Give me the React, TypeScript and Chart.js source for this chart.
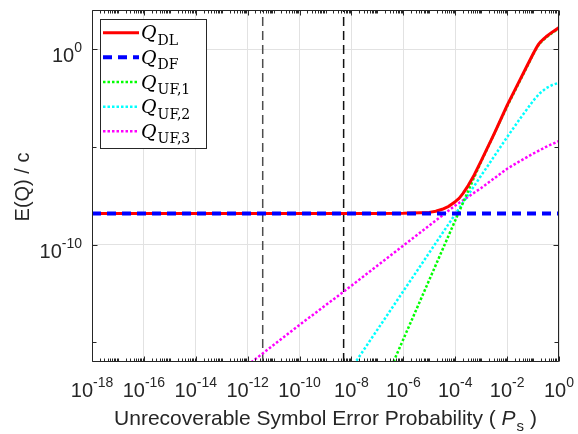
import React, { useEffect, useRef } from "react";
import { Chart, registerables } from "chart.js";

Chart.register(...registerables);

// ---------- axis ranges & ticks ----------
const xMin = 1e-18;
const xMax = 1;
const yMin = 1e-16;
const yMax = 1e2;
const xTickExponents = [-18, -16, -14, -12, -10, -8, -6, -4, -2, 0];
const yTickExponents = [-10, 0];
const yMinorTickExponents = [-15, -5];

// ---------- series ----------
const psDL = [1e-18, 1e-7, 1e-6, 1e-5, 1.78e-5, 3.16e-5, 5.62e-5, 1e-4, 1.41e-4, 2e-4, 3.16e-4, 5e-4, 1e-3, 3.16e-3, 1e-2, 3.16e-2, 5.62e-2, 0.1, 0.126, 0.158, 0.2, 0.251, 0.316, 0.562, 1];
const qDL = [3.98e-9, 3.98e-9, 4.03e-9, 4.47e-9, 5.13e-9, 6.46e-9, 9.12e-9, 1.58e-8, 2.34e-8, 4.17e-8, 1.05e-7, 3.02e-7, 1.91e-6, 4.68e-5, 1.32e-3, 2.75e-2, 0.126, 0.562, 1.0, 1.66, 2.45, 3.24, 4.27, 7.59, 12.6];

const psDF = [1e-18, 1];
const qDF = [3.98e-9, 3.98e-9];

const psUF1 = [1e-7, 1e-6, 1e-5, 1e-4, 1e-3, 1e-2, 0.1, 0.126, 0.158, 0.2, 0.316, 0.562, 1];
const qUF1 = [1.3e-18, 1.45e-15, 1.58e-12, 1.74e-9, 1.78e-6, 1.17e-3, 0.525, 0.933, 1.51, 2.24, 3.89, 6.92, 11.5];

const psUF2 = [1e-8, 1e-6, 1e-4, 1e-3, 1e-2, 3.16e-2, 0.1, 0.178, 0.316, 0.562, 1];
const qUF2 = [4.8e-17, 4.2e-13, 3.6e-9, 3.4e-7, 3.16e-5, 2.8e-4, 2.24e-3, 5.4e-3, 1.0e-2, 1.48e-2, 1.9e-2];

const psUF3 = [1e-12, 1e-10, 1e-8, 1e-6, 1e-4, 1e-3, 1e-2, 3.16e-2, 0.1, 0.316, 1];
const qUF3 = [6.9e-17, 7.9e-15, 7.9e-13, 8.9e-11, 1.0e-8, 7.9e-8, 7.6e-7, 1.9e-6, 4.5e-6, 1.0e-5, 2.0e-5];

const markerPs = [3.8e-12, 5e-9];

const legendSubs = ["DL", "DF", "UF,1", "UF,2", "UF,3"];
const xTitleMain = "Unrecoverable Symbol Error Probability ( ";
const xTitleVar = "P";
const xTitleSub = "s";
const xTitleEnd = " )";
const yTitle = "E(Q) / c";

// ---------- styles ----------
const SANS = '"Liberation Sans", Arial, sans-serif';
const SERIF = '"DejaVu Serif", "Liberation Serif", serif';
const TXT = "#262626";

const seriesStyles = [
  { color: "#ff0000", width: 3, dash: [] as number[] },
  { color: "#0000ff", width: 4, dash: [9, 6] },
  { color: "#00ff00", width: 2.5, dash: [2.5, 2] },
  { color: "#00ffff", width: 2.5, dash: [2.5, 2] },
  { color: "#ff00ff", width: 2.5, dash: [2.5, 2] },
];

function pts(xs: number[], ys: number[]) {
  return xs.map((x, i) => ({ x, y: ys[i] }));
}

function drawPow(ctx: CanvasRenderingContext2D, exp: number, x: number, baseline: number, align: "center" | "right") {
  const base = "10";
  const sup = String(exp);
  ctx.font = `20px ${SANS}`;
  const wb = ctx.measureText(base).width;
  ctx.font = `14px ${SANS}`;
  const ws = ctx.measureText(sup).width;
  const total = wb + ws;
  const start = align === "center" ? x - total / 2 : x - total;
  ctx.textAlign = "left";
  ctx.textBaseline = "alphabetic";
  ctx.fillStyle = TXT;
  ctx.font = `20px ${SANS}`;
  ctx.fillText(base, start, baseline);
  ctx.font = `14px ${SANS}`;
  ctx.fillText(sup, start + wb, baseline - 10);
}

const decorPlugin = {
  id: "decor",
  afterDatasetsDraw(chart: any) {
    const { ctx, chartArea: a, scales } = chart;
    const xs = scales.x;
    const ys = scales.y;
    ctx.save();
    // axes box
    const L = Math.round(a.left) + 0.5;
    const R = Math.round(a.right) - 0.5;
    const T = Math.round(a.top) + 0.5;
    const B = Math.round(a.bottom) - 0.5;
    ctx.setLineDash([]);
    ctx.lineWidth = 1;
    ctx.strokeStyle = TXT;
    ctx.beginPath();
    ctx.moveTo(L, T);
    ctx.lineTo(R, T);
    ctx.lineTo(R, B);
    ctx.lineTo(L, B);
    ctx.closePath();
    ctx.stroke();

    // x ticks (inward, bottom & top)
    ctx.beginPath();
    for (let d = -18; d <= 0; d++) {
      for (let k = 1; k <= 9; k++) {
        if (d === 0 && k > 1) break;
        const v = k * Math.pow(10, d);
        const px = Math.round(xs.getPixelForValue(v)) + 0.5;
        const major = k === 1 && xTickExponents.includes(d);
        const len = major ? 5 : 3;
        ctx.moveTo(px, B);
        ctx.lineTo(px, B - len);
        ctx.moveTo(px, T);
        ctx.lineTo(px, T + len);
      }
    }
    // y ticks
    [...yTickExponents, ...yMinorTickExponents].forEach((e) => {
      const py = Math.round(ys.getPixelForValue(Math.pow(10, e))) + 0.5;
      const len = yTickExponents.includes(e) ? 5 : 4;
      ctx.moveTo(L, py);
      ctx.lineTo(L + len, py);
      ctx.moveTo(R, py);
      ctx.lineTo(R - len, py);
    });
    ctx.stroke();

    // tick labels
    xTickExponents.forEach((e) => {
      const px = xs.getPixelForValue(Math.pow(10, e));
      drawPow(ctx, e, px, 397, "center");
    });
    yTickExponents.forEach((e) => {
      const py = ys.getPixelForValue(Math.pow(10, e));
      drawPow(ctx, e, 82, py + 13, "right");
    });

    // x title
    ctx.fillStyle = TXT;
    ctx.textAlign = "left";
    ctx.textBaseline = "alphabetic";
    ctx.font = `21px ${SANS}`;
    const w1 = ctx.measureText(xTitleMain).width;
    const w4 = ctx.measureText(xTitleEnd).width;
    ctx.font = `italic 21px ${SANS}`;
    const w2 = ctx.measureText(xTitleVar).width;
    ctx.font = `15px ${SANS}`;
    const w3 = ctx.measureText(xTitleSub).width;
    const total = w1 + w2 + 1 + w3 + w4;
    let sx = (a.left + a.right) / 2 - total / 2;
    const by = 425;
    ctx.font = `21px ${SANS}`;
    ctx.fillText(xTitleMain, sx, by);
    sx += w1;
    ctx.font = `italic 21px ${SANS}`;
    ctx.fillText(xTitleVar, sx, by);
    sx += w2 + 1;
    ctx.font = `15px ${SANS}`;
    ctx.fillText(xTitleSub, sx, by + 6);
    sx += w3;
    ctx.font = `21px ${SANS}`;
    ctx.fillText(xTitleEnd, sx, by);

    // y title
    ctx.save();
    ctx.translate(29, (a.top + a.bottom) / 2 + 1);
    ctx.rotate(-Math.PI / 2);
    ctx.font = `20px ${SANS}`;
    ctx.textAlign = "center";
    ctx.fillText(yTitle, 0, 0);
    ctx.restore();

    // legend
    const lx = 100.5, ly = 19.5, lw = 106, lh = 129;
    ctx.fillStyle = "#ffffff";
    ctx.fillRect(lx, ly, lw, lh);
    ctx.strokeStyle = TXT;
    ctx.lineWidth = 1;
    ctx.setLineDash([]);
    ctx.strokeRect(lx, ly, lw, lh);
    legendSubs.forEach((sub, i) => {
      const ry = 32.7 + i * 24.65;
      const st = seriesStyles[i];
      ctx.save();
      ctx.strokeStyle = st.color;
      ctx.lineWidth = st.width;
      ctx.lineCap = "butt";
      ctx.setLineDash(st.dash);
      ctx.beginPath();
      ctx.moveTo(103, ry);
      ctx.lineTo(139, ry);
      ctx.stroke();
      ctx.restore();
      ctx.fillStyle = "#000000";
      ctx.textAlign = "left";
      ctx.font = `italic 19px ${SERIF}`;
      ctx.fillText("Q", 141, ry + 6.5);
      const wq = ctx.measureText("Q").width;
      ctx.font = `14px ${SERIF}`;
      ctx.fillText(sub, 141 + wq + 1, ry + 12);
    });
    ctx.restore();
  },
};

export default function App() {
  const ref = useRef<HTMLCanvasElement | null>(null);

  useEffect(() => {
    document.body.style.margin = "0";
    const canvas = ref.current;
    if (!canvas) return;

    const series = [
      { label: "Q_DL", data: pts(psDL, qDL), order: 2 },
      { label: "Q_DF", data: pts(psDF, qDF), order: 1 },
      { label: "Q_UF,1", data: pts(psUF1, qUF1), order: 3 },
      { label: "Q_UF,2", data: pts(psUF2, qUF2), order: 4 },
      { label: "Q_UF,3", data: pts(psUF3, qUF3), order: 5 },
    ];

    const datasets: any[] = series.map((s, i) => ({
      label: s.label,
      data: s.data,
      order: s.order,
      borderColor: seriesStyles[i].color,
      backgroundColor: seriesStyles[i].color,
      borderWidth: seriesStyles[i].width,
      borderDash: seriesStyles[i].dash,
      borderCapStyle: "butt",
      borderJoinStyle: "round",
      pointRadius: 0,
      tension: 0,
      fill: false,
    }));

    markerPs.forEach((p, i) => {
      datasets.push({
        label: "marker" + i,
        data: [
          { x: p, y: yMin },
          { x: p, y: yMax },
        ],
        order: 10,
        borderColor: i === 0 ? "#4d4d4d" : "#111111",
        borderWidth: 1.5,
        borderDash: [9, 5],
        pointRadius: 0,
        fill: false,
      });
    });

    const chart = new Chart(canvas, {
      type: "line",
      data: { datasets },
      plugins: [decorPlugin],
      options: {
        responsive: false,
        animation: false,
        events: [],
        layout: { padding: { left: 0, top: 10, right: 19, bottom: 0 } },
        plugins: {
          legend: { display: false },
          title: { display: false },
          tooltip: { enabled: false },
        },
        scales: {
          x: {
            type: "logarithmic",
            min: xMin,
            max: xMax,
            afterBuildTicks: (s: any) => {
              s.ticks = xTickExponents.map((e) => ({ value: Math.pow(10, e) }));
            },
            afterFit: (s: any) => {
              s.height = 72;
            },
            ticks: { display: false },
            grid: { color: "#e2e2e2", lineWidth: 1, drawTicks: false },
            border: { display: false },
          },
          y: {
            type: "logarithmic",
            min: yMin,
            max: yMax,
            afterBuildTicks: (s: any) => {
              s.ticks = yTickExponents.map((e) => ({ value: Math.pow(10, e) }));
            },
            afterFit: (s: any) => {
              s.width = 92;
            },
            ticks: { display: false },
            grid: { color: "#e2e2e2", lineWidth: 1, drawTicks: false },
            border: { display: false },
          },
        },
      } as any,
    });

    return () => chart.destroy();
  }, []);

  return (
    <div style={{ width: 578, height: 434, background: "#ffffff" }}>
      <canvas ref={ref} width={578} height={434} style={{ display: "block" }} />
    </div>
  );
}
